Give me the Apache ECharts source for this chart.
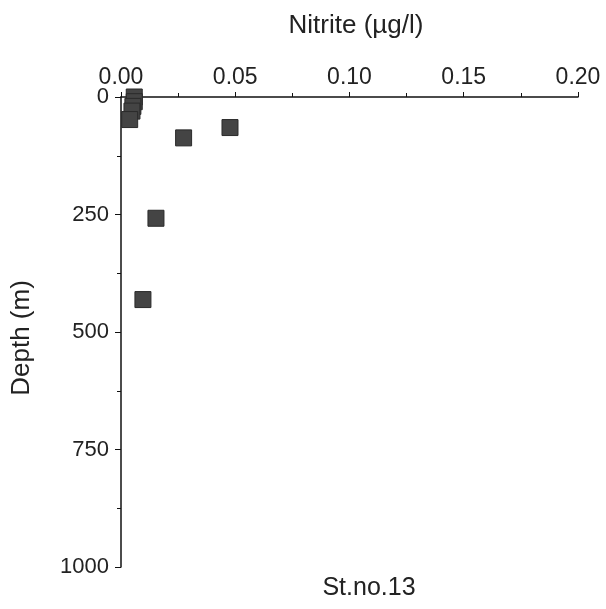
<!DOCTYPE html>
<html><head><meta charset="utf-8">
<script src="https://cdn.jsdelivr.net/npm/echarts@6/dist/echarts.min.js"></script>
<style>html,body{margin:0;padding:0;background:#fff}#c{width:606px;height:609px}</style>
</head><body><div id="c"></div>
<script>
const nitrite = [0.0058, 0.0058, 0.0052, 0.0048, 0.0038, 0.0477, 0.0274, 0.0153, 0.0096];
const depth   = [0, 10, 20, 30, 48, 65, 87, 258, 431];
const xTicks = [0, 0.05, 0.10, 0.15, 0.20];
const yTicks = [0, 250, 500, 750, 1000];
const xName = 'Nitrite (\u00b5g/l)';
const yName = 'Depth (m)';
const stationLabel = 'St.no.13';

const font = 'Liberation Sans';
const chart = echarts.init(document.getElementById('c'));
chart.setOption({
  animation: false,
  backgroundColor: '#fff',
  grid: {left: 121, right: 28, top: 97, bottom: 42},
  title: {text: stationLabel, left: 369, top: 576, textAlign: 'center', padding: 0,
    textStyle: {fontFamily: font, fontSize: 25, fontWeight: 'normal', color: '#222'}},
  xAxis: {
    type: 'value', position: 'top', min: xTicks[0], max: xTicks[xTicks.length-1], interval: 0.05,
    name: xName, nameLocation: 'middle', nameGap: 58,
    nameTextStyle: {fontFamily: font, fontSize: 26, color: '#222', padding: [0, 0, 0, 13]},
    axisLine: {lineStyle: {color: '#111', width: 1.5}},
    axisTick: {show: true, length: 5, lineStyle: {color: '#111'}},
    minorTick: {show: true, splitNumber: 2, length: 4, lineStyle: {color: '#111'}},
    splitLine: {show: false},
    axisLabel: {fontFamily: font, fontSize: 23, color: '#222', margin: 8,
      formatter: v => v.toFixed(2)}
  },
  yAxis: {
    type: 'value', inverse: true, min: yTicks[0], max: yTicks[yTicks.length-1], interval: 250,
    name: yName, nameLocation: 'middle', nameGap: 86,
    nameTextStyle: {fontFamily: font, fontSize: 26, color: '#222', padding: [0, 12, 0, 0]},
    axisLine: {lineStyle: {color: '#111', width: 1.5}},
    axisTick: {show: true, length: 6, lineStyle: {color: '#111'}},
    minorTick: {show: true, splitNumber: 2, length: 4, lineStyle: {color: '#111'}},
    splitLine: {show: false},
    axisLabel: {fontFamily: font, fontSize: 22, color: '#222', margin: 12,
      formatter: v => String(v)}
  },
  series: [{
    type: 'scatter', symbol: 'rect', symbolSize: 16,
    itemStyle: {color: '#444', borderColor: '#2a2a2a', borderWidth: 1, opacity: 1},
    data: nitrite.map((v, i) => [v, depth[i]])
  }]
});
</script></body></html>
